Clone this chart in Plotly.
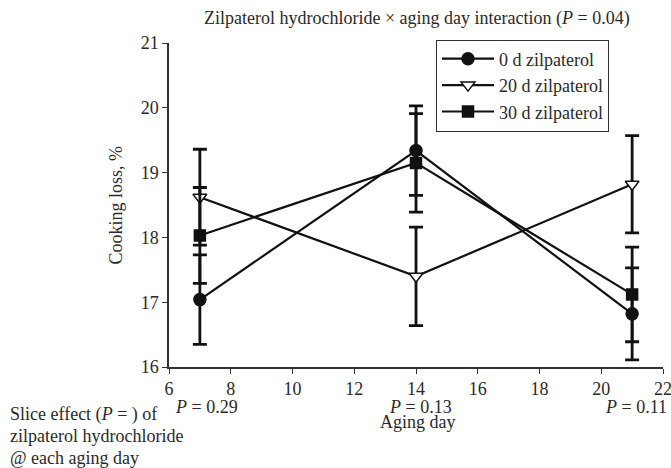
import plotly.graph_objects as go

aging_day = [7, 14, 21]
series_names = ["0 d zilpaterol", "20 d zilpaterol", "30 d zilpaterol"]
loss_0d = [17.04, 19.34, 16.82]
loss_20d = [18.62, 17.40, 18.82]
loss_30d = [18.03, 19.15, 17.12]
se_0d = [0.69, 0.69, 0.71]
se_20d = [0.74, 0.76, 0.75]
se_30d = [0.74, 0.76, 0.73]
slice_p = ["0.29", "0.13", "0.11"]
slice_p_x = [7.23, 14.16, 21.12]
x_ticks = [6, 8, 10, 12, 14, 16, 18, 20, 22]
y_ticks = [16, 17, 18, 19, 20, 21]

FONT = "Liberation Serif"
TXT = "#2a2a2a"
FS = 18

W, H = 671, 468
L, R, T, B = 169, W - 663, 42.5, H - 366.7
PW = W - L - R
PH = H - T - B


def px_x(px):
    return (px - L) / PW


def px_y(py):
    return (H - B - py) / PH


fig = go.Figure()
markers = [
    dict(symbol="circle", size=12, color="#111", line=dict(color="#111", width=1.5)),
    dict(symbol="triangle-down", size=12, color="white", line=dict(color="#111", width=1.5)),
    dict(symbol="square", size=11, color="#111", line=dict(color="#111", width=1.5)),
]
for name, ys, es, mk in zip(series_names, [loss_0d, loss_20d, loss_30d], [se_0d, se_20d, se_30d], markers):
    fig.add_trace(go.Scatter(
        x=aging_day, y=ys, name=name, mode="lines+markers",
        line=dict(color="#111", width=2.2),
        marker=mk,
        error_y=dict(type="data", array=es, visible=True, color="#111", thickness=2.8, width=7),
    ))

annotations = [
    dict(text="Zilpaterol hydrochloride × aging day interaction (<i>P</i> = 0.04)",
         xref="paper", yref="paper", x=px_x(417), y=px_y(18),
         xanchor="center", yanchor="middle", showarrow=False,
         font=dict(family=FONT, size=FS, color=TXT)),
    dict(text="Aging day", xref="paper", yref="paper", x=px_x(418),
         y=px_y(422), xanchor="center", yanchor="middle", showarrow=False,
         font=dict(family=FONT, size=FS, color=TXT)),
    dict(text="Cooking loss, %", xref="paper", yref="paper", x=px_x(116),
         y=px_y(205), xanchor="center", yanchor="middle", showarrow=False, textangle=-90,
         font=dict(family=FONT, size=FS, color=TXT)),
]
for px, p in zip(slice_p_x, slice_p):
    annotations.append(dict(text=f"<i>P</i> = {p}", xref="x", yref="paper", x=px,
                            y=px_y(406.5), xanchor="center", yanchor="middle",
                            showarrow=False, font=dict(family=FONT, size=FS, color=TXT)))
left_lines = ["Slice effect (<i>P</i> = ) of", "zilpaterol hydrochloride", "@ each aging day"]
for i, t in enumerate(left_lines):
    annotations.append(dict(text=t, xref="paper", yref="paper", x=px_x(8),
                            y=px_y(414 + 22 * i), xanchor="left", yanchor="middle",
                            showarrow=False, font=dict(family=FONT, size=FS, color=TXT)))

fig.update_layout(
    width=W, height=H,
    margin=dict(l=L, r=R, t=T, b=B, autoexpand=False),
    paper_bgcolor="white", plot_bgcolor="white",
    font=dict(family=FONT, size=FS, color=TXT),
    showlegend=True,
    legend=dict(x=px_x(436), y=px_y(39), xanchor="left", yanchor="top",
                bordercolor="#333", borderwidth=1, bgcolor="white", itemwidth=52,
                font=dict(family=FONT, size=FS, color=TXT), tracegroupgap=0),
    xaxis=dict(range=[6, 22], tickvals=x_ticks, ticks="outside", ticklen=5, tickwidth=1,
               tickcolor="#333", showline=True, linecolor="#333", linewidth=1.5,
               ticklabeloverflow="allow",
               showgrid=False, zeroline=False, tickfont=dict(family=FONT, size=FS, color=TXT)),
    yaxis=dict(range=[16, 21], tickvals=y_ticks, ticks="outside", ticklen=5, tickwidth=1,
               tickcolor="#333", showline=True, linecolor="#333", linewidth=1.5,
               ticklabeloverflow="allow",
               showgrid=False, zeroline=False, tickfont=dict(family=FONT, size=FS, color=TXT)),
    annotations=annotations,
)
fig.write_html(
    "out.html",
    config={"displayModeBar": False},
    post_script="document.body.style.margin='0';document.body.style.overflow='hidden';",
)
